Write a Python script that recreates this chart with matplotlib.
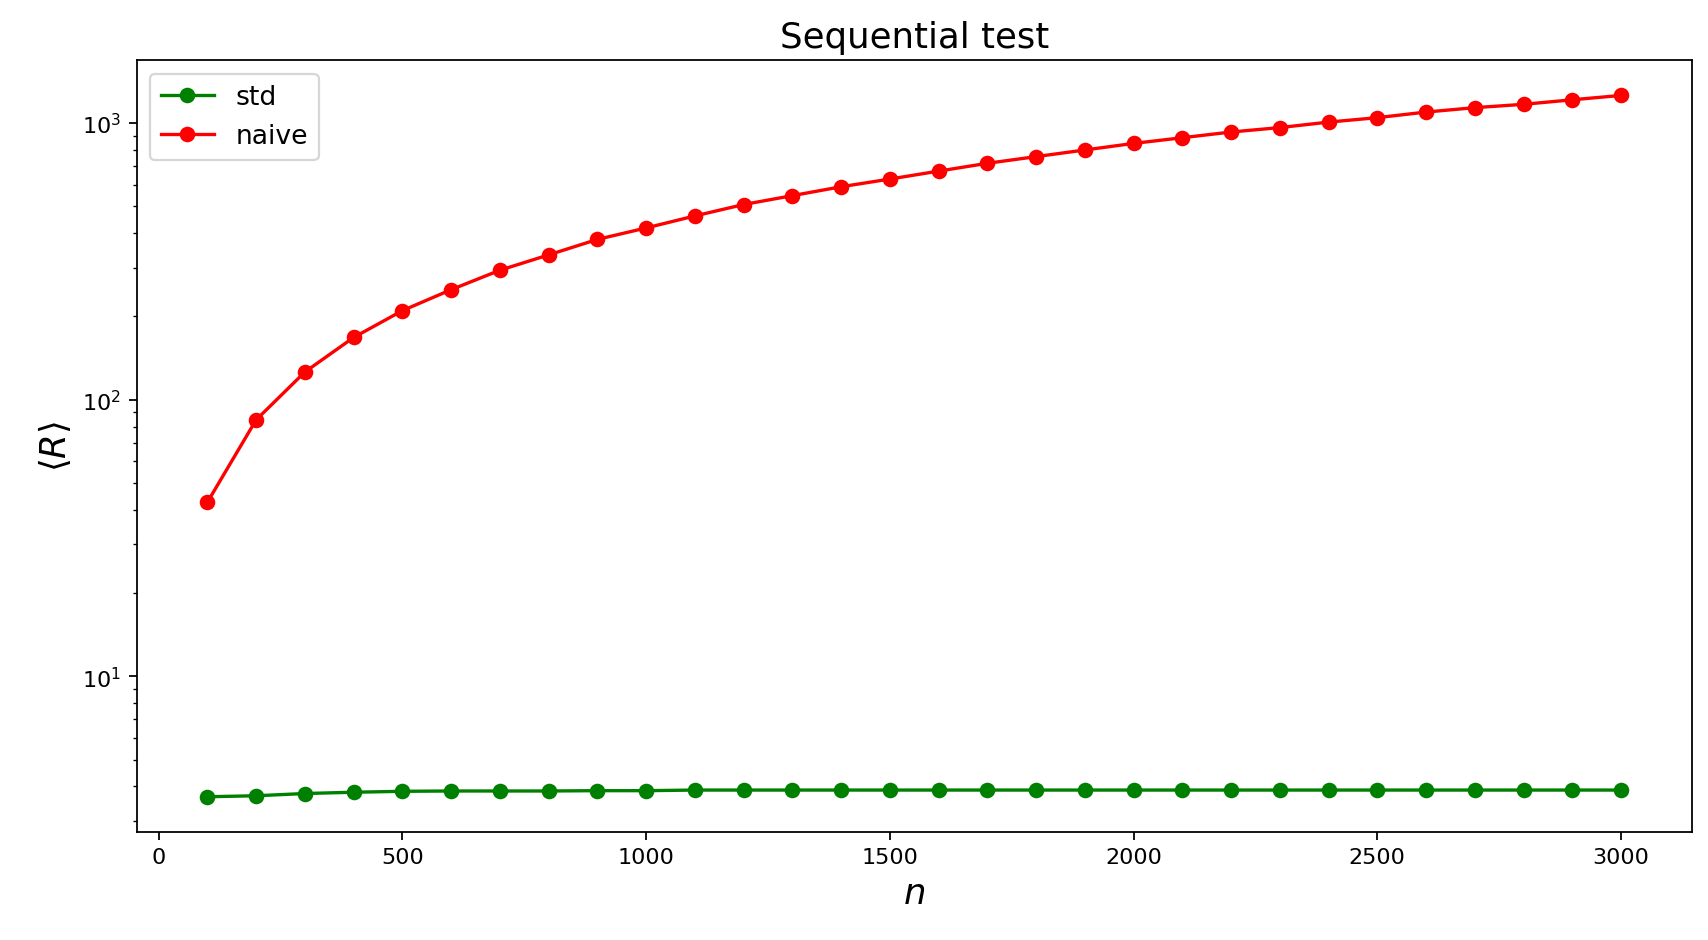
import matplotlib
matplotlib.use("Agg")
import matplotlib.pyplot as plt

n = list(range(100, 3001, 100))
std = [3.67, 3.70, 3.77, 3.81, 3.84, 3.85, 3.85, 3.85, 3.86, 3.86,
       3.88, 3.88, 3.88, 3.88, 3.88, 3.88, 3.88, 3.88, 3.88, 3.88,
       3.88, 3.88, 3.88, 3.88, 3.88, 3.88, 3.88, 3.88, 3.88, 3.88]
naive = [42.6, 84.6, 126, 168, 210, 250, 294, 334, 380, 418,
         462, 508, 547, 589, 628, 671, 716, 757, 800, 845,
         886, 929, 964, 1009, 1047, 1097, 1138, 1170, 1215, 1260]

fig, ax = plt.subplots(figsize=(10.68, 5.88), dpi=160)
ax.plot(n, std, "o-", color="green", label="std")
ax.plot(n, naive, "o-", color="red", label="naive")
ax.set_yscale("log")
ax.set_title("Sequential test", fontsize=16)
ax.set_xlabel("$n$", fontsize=16)
ax.set_ylabel(r"$\langle R\rangle$", fontsize=16)
ax.legend(loc="upper left", fontsize=12)
fig.subplots_adjust(left=0.08, right=0.99, top=0.935, bottom=0.115)
fig.savefig("out.png")
